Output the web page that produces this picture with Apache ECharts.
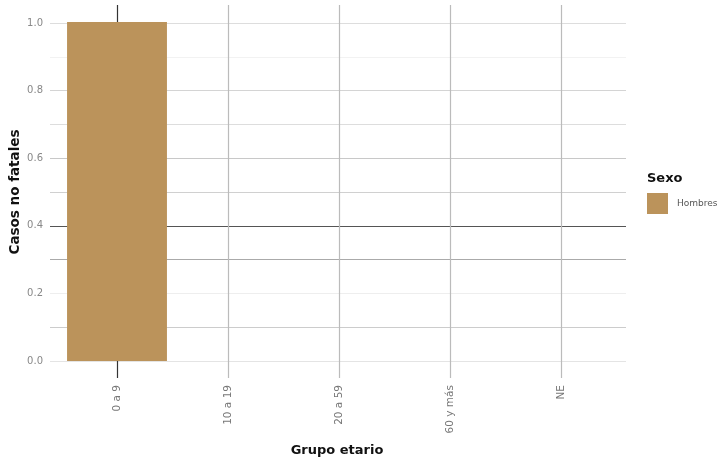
<!DOCTYPE html>
<html><head><meta charset="utf-8">
<script src="https://cdn.jsdelivr.net/npm/echarts@6/dist/echarts.min.js"></script>
<style>html,body{margin:0;padding:0;background:#fff}#c{width:723px;height:462px}</style>
</head><body><div id="c"></div>
<script>
const categories = ['0 a 9', '10 a 19', '20 a 59', '60 y más', 'NE'];
const hombres = [1, 0, 0, 0, 0];
const seriesName = 'Hombres';
const yTicks = [0, 0.2, 0.4, 0.6, 0.8, 1.0];
const xTitle = 'Grupo etario';
const yTitle = 'Casos no fatales';
const legendTitle = 'Sexo';

const font = 'DejaVu Sans';
const chart = echarts.init(document.getElementById('c'), null, {renderer: 'canvas'});
chart.setOption({
  animation: false,
  backgroundColor: '#ffffff',
  title: [
    {text: xTitle, left: 337, top: 444, textAlign: 'center', padding: 0,
     textStyle: {fontFamily: font, fontSize: 13, fontWeight: 'bold', color: '#111'}},
    {text: legendTitle, left: 647, top: 172, padding: 0,
     textStyle: {fontFamily: font, fontSize: 13, fontWeight: 'bold', color: '#111'}}
  ],
  grid: [
    {left: 50, right: 97, top: 23, bottom: 101, outerBoundsMode: 'none', containLabel: false},
    {left: 61.5, right: 106.5, top: 5, bottom: 84, outerBoundsMode: 'none', containLabel: false}
  ],
  legend: {
    left: 647, top: 193, orient: 'vertical', itemWidth: 21, itemHeight: 21, itemGap: 4,
    padding: 0, icon: 'rect',
    textStyle: {fontFamily: font, fontSize: 9, color: '#555', padding: [0, 0, 0, 4]},
    data: [seriesName]
  },
  xAxis: [
    {gridIndex: 0, type: 'category', data: categories, show: false},
    {gridIndex: 1, type: 'category', data: categories, boundaryGap: true,
     axisLine: {show: false}, axisTick: {show: false},
     axisLabel: {rotate: 90, margin: 7, fontFamily: font, fontSize: 10.5, color: '#777'},
     splitLine: {show: true, alignWithLabel: true,
       lineStyle: {width: 1.2, color: ['#333333', '#bbbbbb', '#bbbbbb', '#bbbbbb', '#bbbbbb']}}}
  ],
  yAxis: [
    {gridIndex: 0, type: 'value', min: 0, max: 1, interval: 0.1,
     name: yTitle, nameLocation: 'middle', nameGap: 28, nameMoveOverlap: false,
     nameTextStyle: {fontFamily: font, fontSize: 13.5, fontWeight: 'bold', color: '#111'},
     axisLine: {show: false}, axisTick: {show: false},
     axisLabel: {margin: 7, fontFamily: font, fontSize: 10, color: '#888',
       formatter: function (v) {
         const r = Math.round(v * 10) / 10;
         return yTicks.some(t => Math.abs(t - r) < 1e-9) ? r.toFixed(1) : '';
       }},
     splitLine: {show: true, lineStyle: {width: 1.2, color: [
       '#e4e4e4', '#cccccc', '#eeeeee', '#aaaaaa', '#555555', '#d0d0d0',
       '#c8c8c8', '#dddddd', '#d4d4d4', '#f2f2f2', '#dddddd']}}},
    {gridIndex: 1, type: 'value', min: -0.05, max: 1.05, show: false, splitLine: {show: false}}
  ],
  series: [{
    name: seriesName, type: 'bar', xAxisIndex: 1, yAxisIndex: 1,
    data: hombres, barCategoryGap: '10%',
    itemStyle: {color: '#bb935b', borderWidth: 0}
  }]
});
</script></body></html>
